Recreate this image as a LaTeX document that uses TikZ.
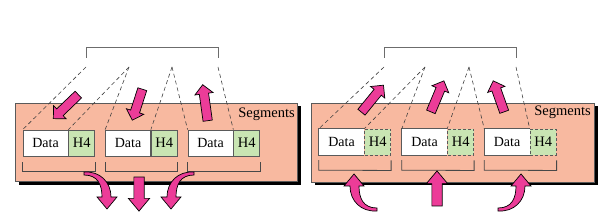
\documentclass[tikz,border=0pt]{standalone}
\usepackage{fontspec}
\setmainfont{Liberation Serif}
\usetikzlibrary{calc,shapes.arrows}
\definecolor{salmon}{HTML}{F8B9A0}
\definecolor{pinkarr}{HTML}{EC3C98}
\definecolor{hgreen}{HTML}{C9E5B3}
\definecolor{lgray}{HTML}{5A5A5A}
\tikzset{
  panel/.style={draw=lgray, line width=0.6pt, fill=salmon},
  shadowbox/.style={fill=black},
  databox/.style={draw=lgray, line width=0.7pt, fill=white, minimum width=45pt, minimum height=26pt, inner sep=0pt, font=\fontsize{14}{14}\selectfont},
  hbox/.style={draw=lgray, line width=0.7pt, fill=hgreen, minimum width=26pt, minimum height=26pt, inner sep=0pt, font=\fontsize{14.5}{14}\selectfont},
  hboxd/.style={hbox, dashed, dash pattern=on 3pt off 2pt, line width=0.9pt},
  dataopen/.style={fill=white, minimum width=45pt, minimum height=26pt, inner sep=0pt, font=\fontsize{14}{14}\selectfont},
  topbr/.style={draw=gray!85!black, line width=1pt},
  botbr/.style={draw=lgray!80!black, line width=0.8pt},
  dline/.style={draw=black!75, line width=0.6pt, dash pattern=on 4pt off 3pt},
  barrow/.style={single arrow, draw=black, line width=0.7pt, fill=pinkarr, inner sep=4.3pt, single arrow head extend=4.5pt, single arrow tip angle=90, minimum width=0pt},
  bigarrow/.style={barrow, inner sep=4.8pt, single arrow head extend=5.5pt, single arrow tip angle=80},
  carrow/.style={draw=black, line width=0.7pt, fill=pinkarr},
  seglabel/.style={anchor=east, inner sep=0pt, font=\fontsize{14.5}{14}\selectfont}
}
\newcommand\blockarr[3][barrow]{%
  \path let \p1=($(#3)-(#2)$), \n1={atan2(\y1,\x1)}, \n2={veclen(\x1,\y1)} in
    node[#1, rotate=\n1, minimum height=\n2] at ($(#2)!0.5!(#3)$) {};}
\newcommand\curvarr[1]{%
  \begin{scope}[#1]
    \path[carrow] (0,1) .. controls (14,1) and (18,11) .. (18,23) -- (13,23) -- (23,35) -- (33,23) -- (27,23) .. controls (27,8) and (16,-3) .. (0,-2) -- cycle;
  \end{scope}}
\begin{document}
\begin{tikzpicture}[x=1pt,y=-1pt]
\useasboundingbox (0,0) rectangle (614,224);
% ---------------- left panel ----------------
\path[shadowbox] (18.5,106.5) rectangle (301,185);
\path[panel] (15,103) rectangle (297.5,181.5);
\node[seglabel] (segL) at (295,114) {Segments};
\node[databox] (ld1) at (45.5,143) {Data};
\node[hbox, anchor=west] (lh1) at (ld1.east) {H4};
\node[databox] (ld2) at (128,143) {Data};
\node[hbox, anchor=west] (lh2) at (ld2.east) {H4};
\node[databox] (ld3) at (210.5,143) {Data};
\node[hbox, anchor=west] (lh3) at (ld3.east) {H4};
\foreach \i in {1,2,3}{
  \draw[botbr] ($(ld\i.south west)+(0,6)$) -- ($(ld\i.south west)+(0,15)$) -- ($(lh\i.south east)+(0,15)$) -- ($(lh\i.south east)+(0,6)$);
}
\draw[topbr] (86,58) -- (86,48) -- (218,48) -- (218,58);
\coordinate (lp1) at (86,67);
\coordinate (lp2) at (129,67);
\coordinate (lp3) at (172,67);
\coordinate (lp4) at (218,67);
\draw[dline] (lp1) -- (ld1.north west);
\draw[dline] (lp2) -- (ld1.north east);
\draw[dline] (lp2) -- (ld2.north west);
\draw[dline] (lp3) -- (ld2.north east);
\draw[dline] (lp3) -- (ld3.north west);
\draw[dline] (lp4) -- (ld3.north east);
\coordinate (la1s) at (80,93);   \coordinate (la1e) at (55,117);
\coordinate (la2s) at (143,87);  \coordinate (la2e) at (133,118);
\coordinate (la3s) at (208,123); \coordinate (la3e) at (203,87);
\blockarr{la1s}{la1e}
\blockarr{la2s}{la2e}
\blockarr{la3s}{la3e}
\coordinate (lb2s) at (139,174); \coordinate (lb2e) at (139,208);
\blockarr[bigarrow]{lb2s}{lb2e}
\curvarr{shift={(84,174)}}
\curvarr{shift={(194,174)},xscale=-1}
% ---------------- right panel ----------------
\path[shadowbox] (314.5,106.5) rectangle (597.5,185.5);
\path[panel] (311,103) rectangle (594,182);
\node[seglabel] (segR) at (591,112) {Segments};
\node[dataopen] (rd1) at (341.5,142) {Data};
\node[hboxd, anchor=west] (rh1) at (rd1.east) {H4};
\node[dataopen] (rd2) at (424.5,142) {Data};
\node[hboxd, anchor=west] (rh2) at (rd2.east) {H4};
\node[dataopen] (rd3) at (507,142) {Data};
\node[hboxd, anchor=west] (rh3) at (rd3.east) {H4};
\foreach \i in {1,2,3}{
  \draw[draw=lgray, line width=0.7pt] (rd\i.north east) -- (rd\i.north west) -- (rd\i.south west) -- (rd\i.south east);
  \draw[botbr] ($(rd\i.south west)+(0,5)$) -- ($(rd\i.south west)+(0,15)$) -- ($(rh\i.south east)+(0,15)$) -- ($(rh\i.south east)+(0,5)$);
}
\draw[topbr] (384,58) -- (384,48) -- (516,48) -- (516,58);
\coordinate (rp1) at (384,67);
\coordinate (rp2) at (425,67);
\coordinate (rp3) at (469,67);
\coordinate (rp4) at (516,67);
\draw[dline] (rp1) -- (rd1.north west);
\draw[dline] (rp2) -- (rd1.north east);
\draw[dline] (rp2) -- (rd2.north west);
\draw[dline] (rp3) -- (rd2.north east);
\draw[dline] (rp3) -- (rd3.north west);
\draw[dline] (rp4) -- (rd3.north east);
\coordinate (ra1s) at (360,114); \coordinate (ra1e) at (382,87);
\coordinate (ra2s) at (430,114); \coordinate (ra2e) at (443,83);
\coordinate (ra3s) at (505,114); \coordinate (ra3e) at (494,83);
\blockarr{ra1s}{ra1e}
\blockarr{ra2s}{ra2e}
\blockarr{ra3s}{ra3e}
\coordinate (rb2s) at (437,209); \coordinate (rb2e) at (437,174);
\blockarr[bigarrow]{rb2s}{rb2e}
\curvarr{shift={(377,209)},xscale=-1,yscale=-1}
\curvarr{shift={(498,209)},yscale=-1}
\end{tikzpicture}
\end{document}
